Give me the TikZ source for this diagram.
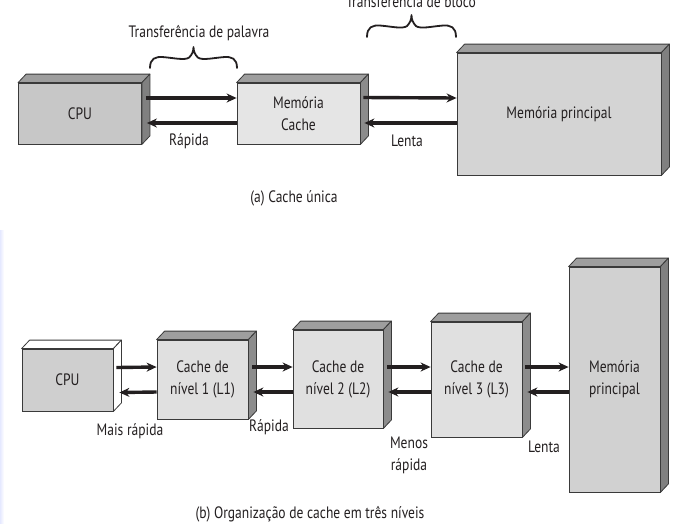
\documentclass[tikz,border=0pt]{standalone}
\usepackage{fontspec}
\setmainfont{PT Sans}[FakeStretch=0.82]
\usetikzlibrary{arrows.meta,calc}
\definecolor{txt}{HTML}{231F20}
\definecolor{edge}{HTML}{3A3A3A}
\tikzset{
  front/.style={draw=edge, line width=0.8pt, inner sep=0pt, align=center, text=txt,
    font=\fontsize{16.5}{22}\selectfont},
  face/.style={draw=edge, line width=0.8pt, line join=round},
  arr/.style={line width=3.4pt, draw=txt, -{Stealth[length=10pt,width=9pt]}},
  lbl/.style={text=txt, font=\fontsize{16.5}{22}\selectfont, align=center, inner sep=0pt},
  bracestyle/.style={draw=txt, line width=1.8pt, line cap=round, line join=round},
}
% 3D faces of a front box: #1 node, #2 top colour, #3 side colour
\newcommand\boxfaces[3]{%
  \draw[face, fill=#2] (#1.north west) -- ++(8,-8.5) -- ([shift={(8,-8.5)}]#1.north east) -- (#1.north east) -- cycle;
  \draw[face, fill=#3] (#1.north east) -- ++(8,-8.5) -- ([shift={(8,-8.5)}]#1.south east) -- (#1.south east) -- cycle;
}
% curly brace: left x, right x, baseline y, height
\newcommand\dobrace[4]{%
  \draw[bracestyle] (#1,#3)
    .. controls (#1,{#3-0.45*#4}) and ({#1+0.12*(#2-#1)/2},{#3-0.55*#4}) .. ({#1+0.3*(#2-#1)/2},{#3-0.52*#4})
    .. controls ({#1+0.55*(#2-#1)/2},{#3-0.48*#4}) and ({#1+0.8*(#2-#1)/2},{#3-0.35*#4}) .. ({#1+0.9*(#2-#1)/2},{#3-0.5*#4})
    .. controls ({#1+0.97*(#2-#1)/2},{#3-0.65*#4}) and ({(#1+#2)/2},{#3-0.8*#4}) .. ({(#1+#2)/2},{#3-#4})
    .. controls ({(#1+#2)/2},{#3-0.8*#4}) and ({#2-0.97*(#2-#1)/2},{#3-0.65*#4}) .. ({#2-0.9*(#2-#1)/2},{#3-0.5*#4})
    .. controls ({#2-0.8*(#2-#1)/2},{#3-0.35*#4}) and ({#2-0.55*(#2-#1)/2},{#3-0.48*#4}) .. ({#2-0.3*(#2-#1)/2},{#3-0.52*#4})
    .. controls ({#2-0.12*(#2-#1)/2},{#3-0.55*#4}) and (#2,{#3-0.45*#4}) .. (#2,#3);
}
\begin{document}
\begin{tikzpicture}[x=1pt,y=-1pt]
\useasboundingbox (0,0) rectangle (688,523);
\fill[white] (0,0) rectangle (688,523);
\shade[left color=cyan!12!blue!10, right color=white] (0,230) rectangle (4,523);

% ---------- (a) ----------
\node[front, fill=black!22, minimum width=123pt, minimum height=61pt] (cpuA) at (80,113.5) {CPU};
\boxfaces{cpuA}{black!38}{black!50}
\node[front, fill=black!10, minimum width=123pt, minimum height=61pt] (cacheA) at (298.5,113.5) {Memória\\Cache};
\boxfaces{cacheA}{black!38}{black!45}
\node[front, fill=black!17, minimum width=204pt, minimum height=122pt] (mainA) at (559,114) {Memória principal};
\boxfaces{mainA}{black!38}{black!50}

\draw[arr] ([shift={(4,-15.5)}]cpuA.east) -- ([shift={(0,-15.5)}]cacheA.west);
\draw[arr] ([shift={(0,9.5)}]cacheA.west) -- ([shift={(5,9.5)}]cpuA.east);
\draw[arr] ([shift={(3,-16)}]cacheA.east) -- (mainA.west |- 0,98);
\draw[arr] (mainA.west |- 0,123) -- ([shift={(4,9.5)}]cacheA.east);

\node[lbl] (rapA) at (189,141) {Rápida};
\node[lbl] (lenA) at (407,141) {Lenta};
\node[lbl] (tpal) at (199,33) {Transferência de palavra};
\node[lbl, anchor=base] (tblo) at (411,7) {Transferência de bloco};
\dobrace{150}{237}{68}{21}
\dobrace{367}{456}{37}{22}
\node[lbl] (capA) at (294,198) {(a) Cache única};

% ---------- (b) ----------
\node[front, fill=black!19, minimum width=91pt, minimum height=62pt] (cpuB) at (67.5,380) {CPU};
\boxfaces{cpuB}{white}{white}
\node[front, fill=black!12, minimum width=91pt, minimum height=79pt] (l1) at (202.5,379.5) {Cache de\\nível 1 (L1)};
\boxfaces{l1}{black!38}{black!45}
\node[front, fill=black!12, minimum width=90pt, minimum height=98pt] (l2) at (338,379) {Cache de\\nível 2 (L2)};
\boxfaces{l2}{black!38}{black!45}
\node[front, fill=black!12, minimum width=91pt, minimum height=115pt] (l3) at (476.5,379.5) {Cache de\\nível 3 (L3)};
\boxfaces{l3}{black!38}{black!45}
\node[front, fill=black!18, minimum width=91pt, minimum height=225pt] (mainB) at (614.5,379.5) {Memória\\principal};
\boxfaces{mainB}{black!38}{black!50}

\draw[arr] ([shift={(3,-12.5)}]cpuB.east) -- ([shift={(0,-12.5)}]l1.west);
\draw[arr] ([shift={(0,12.5)}]l1.west) -- ([shift={(6,12.5)}]cpuB.east);
\draw[arr] ([shift={(4,-12.5)}]l1.east) -- (l2.west |- 0,367);
\draw[arr] (l2.west |- 0,392) -- ([shift={(5,12.5)}]l1.east);
\draw[arr] ([shift={(4,-12)}]l2.east) -- (l3.west |- 0,367);
\draw[arr] (l3.west |- 0,392) -- ([shift={(5,13)}]l2.east);
\draw[arr] ([shift={(3,-12.5)}]l3.east) -- (mainB.west |- 0,367);
\draw[arr] (mainB.west |- 0,392) -- ([shift={(5,12.5)}]l3.east);

\node[lbl] (maisr) at (130,431) {Mais rápida};
\node[lbl] (rapB) at (269,427) {Rápida};
\node[lbl] (menos) at (409,455) {Menos\\rápida};
\node[lbl] (lenB) at (544,447) {Lenta};
\node[lbl] (capB) at (310,514) {(b) Organização de cache em três níveis};
\end{tikzpicture}
\end{document}
